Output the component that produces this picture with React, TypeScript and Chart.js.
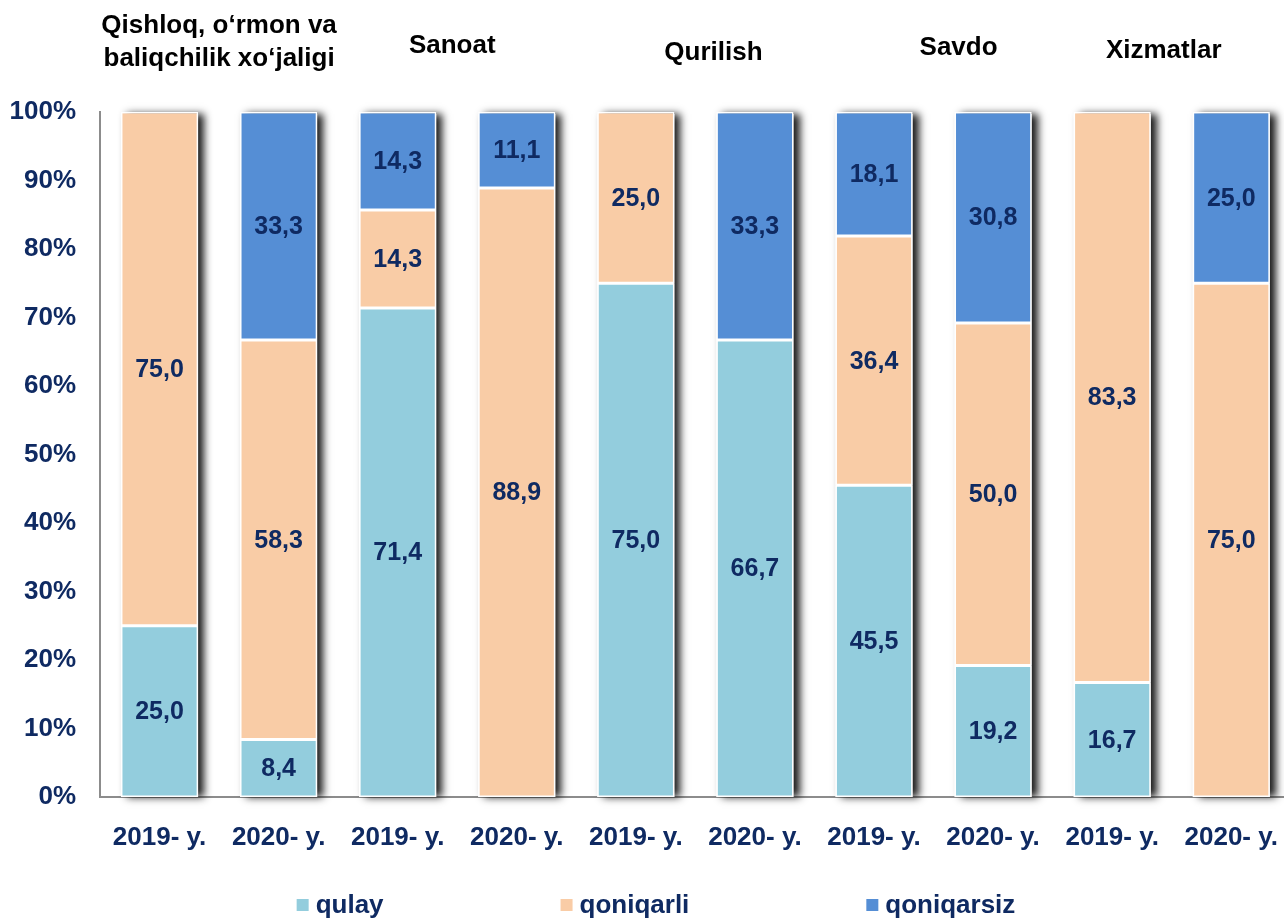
import React, { useEffect, useRef } from "react";
import { Chart, registerables } from "chart.js";

Chart.register(...registerables);

const categories = [
  "2019- y.", "2020- y.", "2019- y.", "2020- y.", "2019- y.",
  "2020- y.", "2019- y.", "2020- y.", "2019- y.", "2020- y.",
];
const groupTitles = [
  ["Qishloq, o‘rmon va", "baliqchilik xo‘jaligi"],
  ["Sanoat"],
  ["Qurilish"],
  ["Savdo"],
  ["Xizmatlar"],
];
const seriesNames = ["qulay", "qoniqarli", "qoniqarsiz"];
const qulay = [25.0, 8.4, 71.4, 0, 75.0, 66.7, 45.5, 19.2, 16.7, 0];
const qoniqarli = [75.0, 58.3, 14.3, 88.9, 25.0, 0, 36.4, 50.0, 83.3, 75.0];
const qoniqarsiz = [0, 33.3, 14.3, 11.1, 0, 33.3, 18.1, 30.8, 0, 25.0];
const yTickValues = [0, 10, 20, 30, 40, 50, 60, 70, 80, 90, 100];

const seriesColors = ["#93CDDD", "#F9CCA6", "#558ED5"];
const NAVY = "#0F2A62";
const FONT = '"Liberation Sans", Arial, sans-serif';

// title placement tweaks (dx from group centre, dy line centres)
const titleDx = [0, -5, 18, 25, -8];
const titleY = [[26, 59], [46], [53], [48], [51]];

const shadowPlugin = {
  id: "barShadow",
  beforeDatasetsDraw(chart: any) {
    const meta = chart.getDatasetMeta(0);
    const yScale = chart.scales.y;
    const ctx = chart.ctx;
    ctx.save();
    ctx.shadowColor = "rgba(0,0,0,0.9)";
    ctx.shadowBlur = 8;
    ctx.shadowOffsetX = 6;
    ctx.shadowOffsetY = 0;
    ctx.fillStyle = "#ffffff";
    meta.data.forEach((el: any, i: number) => {
      const total = chart.data.datasets.reduce(
        (s: number, d: any) => s + (d.data[i] || 0), 0);
      const top = yScale.getPixelForValue(total);
      const bottom = yScale.getPixelForValue(0);
      ctx.fillRect(el.x - el.width / 2, top + 2, el.width, bottom - top - 2);
    });
    ctx.restore();
  },
};

const valueLabelPlugin = {
  id: "valueLabels",
  afterDatasetsDraw(chart: any) {
    const ctx = chart.ctx;
    ctx.save();
    ctx.font = `bold 25px ${FONT}`;
    ctx.fillStyle = NAVY;
    ctx.textAlign = "center";
    ctx.textBaseline = "middle";
    chart.data.datasets.forEach((ds: any, di: number) => {
      const meta = chart.getDatasetMeta(di);
      meta.data.forEach((el: any, i: number) => {
        const v = ds.data[i];
        if (!v) return;
        const y = (el.y + el.base) / 2 + 1;
        ctx.fillText(v.toFixed(1).replace(".", ","), el.x, y);
      });
    });
    ctx.restore();
  },
};

const titlesLegendPlugin = {
  id: "titlesLegend",
  afterDraw(chart: any) {
    const ctx = chart.ctx;
    const xScale = chart.scales.x;
    ctx.save();
    // group titles
    ctx.font = `bold 26px ${FONT}`;
    ctx.fillStyle = "#000000";
    ctx.textAlign = "center";
    ctx.textBaseline = "middle";
    groupTitles.forEach((lines, g) => {
      const cx =
        (xScale.getPixelForValue(g * 2) + xScale.getPixelForValue(g * 2 + 1)) / 2 +
        titleDx[g];
      lines.forEach((line, li) => ctx.fillText(line, cx, titleY[g][li]));
    });
    // legend
    const box = 12;
    const gapText = 7;
    const gapItem = 177;
    ctx.font = `bold 26px ${FONT}`;
    const widths = seriesNames.map((n) => box + gapText + ctx.measureText(n).width);
    const total = widths.reduce((a, b) => a + b, 0) + gapItem * (widths.length - 1);
    let x = 656 - total / 2;
    const ly = 906;
    ctx.textAlign = "left";
    seriesNames.forEach((n, i) => {
      ctx.fillStyle = seriesColors[i];
      ctx.fillRect(x, ly - box / 2 - 1, box, box);
      ctx.fillStyle = NAVY;
      ctx.fillText(n, x + box + gapText, ly);
      x += widths[i] + gapItem;
    });
    ctx.restore();
  },
};

export default function App() {
  const canvasRef = useRef<HTMLCanvasElement | null>(null);

  useEffect(() => {
    const canvas = canvasRef.current;
    if (!canvas) return;
    const series = [qulay, qoniqarli, qoniqarsiz];
    const chart = new Chart(canvas, {
      type: "bar",
      data: {
        labels: categories,
        datasets: series.map((data, i) => ({
          label: seriesNames[i],
          data,
          backgroundColor: seriesColors[i],
          borderColor: "#ffffff",
          borderWidth: 1.5,
          borderSkipped: false,
          categoryPercentage: 1,
          barPercentage: 0.648,
        })),
      },
      options: {
        responsive: false,
        animation: false,
        devicePixelRatio: 1,
        layout: { padding: { top: 112, right: 0, left: 0, bottom: 0 } },
        plugins: {
          legend: { display: false },
          tooltip: { enabled: false },
        },
        scales: {
          x: {
            stacked: true,
            grid: { display: false },
            border: { display: true, color: "#8C8C8C", width: 2 },
            ticks: {
              color: NAVY,
              font: { family: FONT, size: 26, weight: "bold" },
              padding: 17,
              maxRotation: 0,
              autoSkip: false,
            },
            afterFit(scale: any) {
              scale.height = 121;
            },
          },
          y: {
            stacked: true,
            min: 0,
            max: 100,
            grid: { display: false },
            border: { display: true, color: "#8C8C8C", width: 2 },
            afterBuildTicks(scale: any) {
              scale.ticks = yTickValues.map((v) => ({ value: v }));
            },
            ticks: {
              color: NAVY,
              font: { family: FONT, size: 26, weight: "bold" },
              padding: 16,
              callback: (v: any) => `${v}%`,
            },
            afterFit(scale: any) {
              scale.width = 100;
            },
          },
        },
      },
      plugins: [shadowPlugin, valueLabelPlugin, titlesLegendPlugin],
    });
    return () => chart.destroy();
  }, []);

  return (
    <div
      style={{
        position: "absolute",
        left: 0,
        top: 0,
        width: 1284,
        height: 918,
        overflow: "hidden",
        background: "#ffffff",
      }}
    >
      <canvas
        ref={canvasRef}
        width={1295}
        height={918}
        style={{ width: 1295, height: 918, display: "block" }}
      />
    </div>
  );
}
